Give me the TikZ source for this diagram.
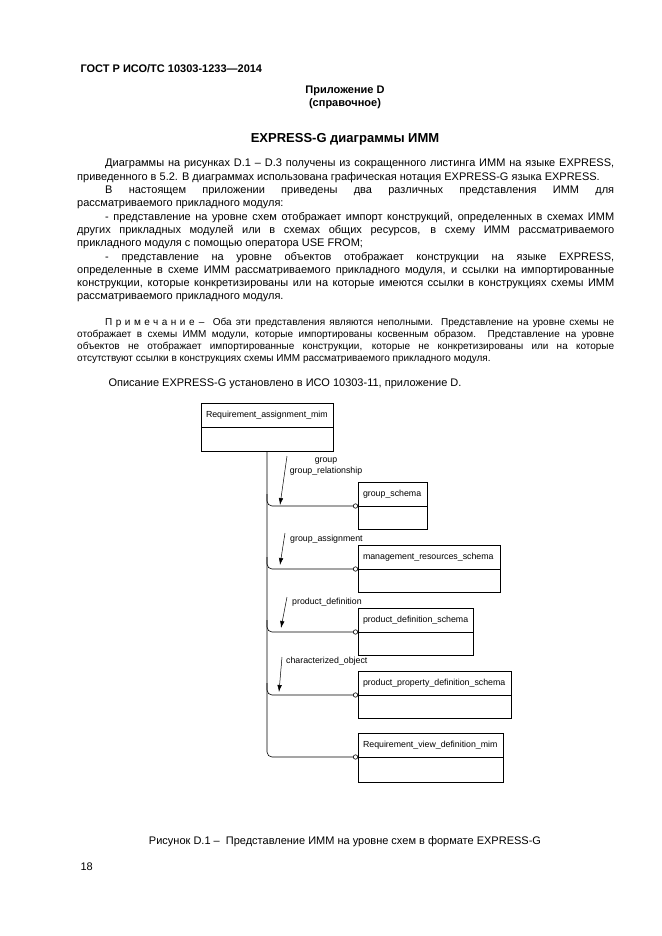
\documentclass[tikz,border=0pt]{standalone}
\usepackage{fontspec}
\setmainfont{Liberation Sans}
\usetikzlibrary{positioning,arrows.meta}
\newcommand{\diagfont}{\fontsize{8.8}{11}\selectfont}%text in the boxes
\newcommand{\bodyfont}{\fontsize{11}{13.3}\selectfont}
\newcommand{\notefont}{\fontsize{10}{12}\selectfont}

\begin{document}
\begin{tikzpicture}[x=1pt,y=-1pt,
	entbox/.style={draw=black, line width=0.6pt, outer sep=0pt, anchor=north west, inner xsep=5pt, inner ysep=0pt, minimum height=24pt, font=\diagfont, align=left},
	entlow/.style={draw=black, line width=0.6pt, outer sep=0pt, inner sep=0pt, minimum height=23pt},
	link/.style={draw=black, line width=0.6pt, rounded corners=5pt, -{Circle[open,length=5pt,width=5pt]}},
	rel/.style={draw=black, line width=0.5pt, -{Latex[length=7pt,width=4.5pt]}},
	lbl/.style={font=\diagfont, inner sep=0pt}]
			\useasboundingbox (0,0) rectangle (661,936);
			\node [anchor=base west, font=\bodyfont\bfseries] (gost) at (77,73) {ГОСТ Р ИСО/ТС 10303-1233—2014};
			\node [anchor=base, font=\bodyfont\bfseries] (app) at (345,94) {Приложение D};
			\node [anchor=base, font=\bodyfont\bfseries] (inf) at (345,107) {(справочное)};
			\node [anchor=base, font=\fontsize{13}{15}\selectfont\bfseries] (title) at (345,143) {EXPRESS-G диаграммы ИММ};
			\node [anchor=base west, inner sep=0pt] (body) at (77,167) {\parbox[t]{537pt}{\bodyfont\setlength{\parindent}{28pt}\tolerance=10000
				Диаграммы на рисунках D.1 – D.3 получены из сокращенного листинга ИММ на языке EXPRESS,\linebreak
				приведенного в 5.2. В диаграммах использована графическая нотация EXPRESS-G языка EXPRESS.\par
				В настоящем приложении приведены два различных представления ИММ для\linebreak
				рассматриваемого прикладного модуля:\par
				- представление на уровне схем отображает импорт конструкций, определенных в схемах ИММ\linebreak
				других прикладных модулей или в схемах общих ресурсов, в схему ИММ рассматриваемого\linebreak
				прикладного модуля с помощью оператора USE FROM;\par
				- представление на уровне объектов отображает конструкции на языке EXPRESS,\linebreak
				определенные в схеме ИММ рассматриваемого прикладного модуля, и ссылки на импортированные\linebreak
				конструкции, которые конкретизированы или на которые имеются ссылки в конструкциях схемы ИММ\linebreak
				рассматриваемого прикладного модуля.}};
			\node [anchor=base west, inner sep=0pt] (note) at (77,325) {\parbox[t]{537pt}{\notefont\setlength{\parindent}{28pt}\tolerance=10000
				{\addfontfeature{LetterSpace=35}Примечание} –\ \ Оба эти представления являются неполными. Представление на уровне схемы не\linebreak
				отображает в схемы ИММ модули, которые импортированы косвенным образом. Представление на уровне\linebreak
				объектов не отображает импортированные конструкции, которые не конкретизированы или на которые\linebreak
				отсутствуют ссылки в конструкциях схемы ИММ рассматриваемого прикладного модуля.}};
			\node [anchor=base west, font=\bodyfont] (descr) at (105,386) {Описание EXPRESS-G установлено в ИСО 10303-11, приложение D.};
			\node [entbox, text width=122pt] (ram) at (201,403) {Requirement\_assignment\_mim};
			\node [entlow, minimum width=132pt, minimum height=24pt, below=0pt of ram] (ram-b) {};
			\node [entbox, text width=59pt] (gs) at (358,482) {group\_schema};
			\node [entlow, minimum width=69pt, below=0pt of gs] (gs-b) {};
			\node [entbox, text width=132pt] (mrs) at (358,545) {management\_resources\_schema};
			\node [entlow, minimum width=142pt, below=0pt of mrs] (mrs-b) {};
			\node [entbox, text width=105pt] (pds) at (358,608) {product\_definition\_schema};
			\node [entlow, minimum width=115pt, below=0pt of pds] (pds-b) {};
			\node [entbox, text width=143pt] (ppds) at (358,671) {product\_property\_definition\_schema};
			\node [entlow, minimum width=153pt, below=0pt of ppds] (ppds-b) {};
			\node [entbox, text width=135pt] (rvdm) at (358,733) {Requirement\_view\_definition\_mim};
			\node [entlow, minimum width=145pt, minimum height=25pt, below=0pt of rvdm] (rvdm-b) {};
			\draw [link] (ram-b.south) |- (rvdm.south west);
			\draw [link] (ram-b.south |- gs.center) |- (gs.south west);
			\draw [link] (ram-b.south |- mrs.center) |- (mrs.south west);
			\draw [link] (ram-b.south |- pds.center) |- (pds.south west);
			\draw [link] (ram-b.south |- ppds.center) |- (ppds.south west);
			\node [lbl, align=center] (l-gs) at (326,467) {group\\group\_relationship};
			\node [lbl, anchor=west] (l-mrs) at (290,539) {group\_assignment};
			\node [lbl, anchor=west] (l-pds) at (292,602) {product\_definition};
			\node [lbl, anchor=west] (l-ppds) at (286,661) {characterized\_object};
			\coordinate (a1s) at (287,456);
			\coordinate (a1e) at (280,505);
			\coordinate (a2s) at (285,533);
			\coordinate (a2e) at (280,565);
			\coordinate (a3s) at (287,597);
			\coordinate (a3e) at (281,628);
			\coordinate (a4s) at (282,657);
			\coordinate (a4e) at (279,692);
			\draw [rel] (a1s) -- (a1e);
			\draw [rel] (a2s) -- (a2e);
			\draw [rel] (a3s) -- (a3e);
			\draw [rel] (a4s) -- (a4e);
			\node [anchor=base, font=\bodyfont] (cap) at (345,844) {Рисунок D.1 –\ \ Представление ИММ на уровне схем в формате EXPRESS-G};
			\node [anchor=base west, font=\bodyfont] (page) at (77,870) {18};
\end{tikzpicture}
\end{document}
